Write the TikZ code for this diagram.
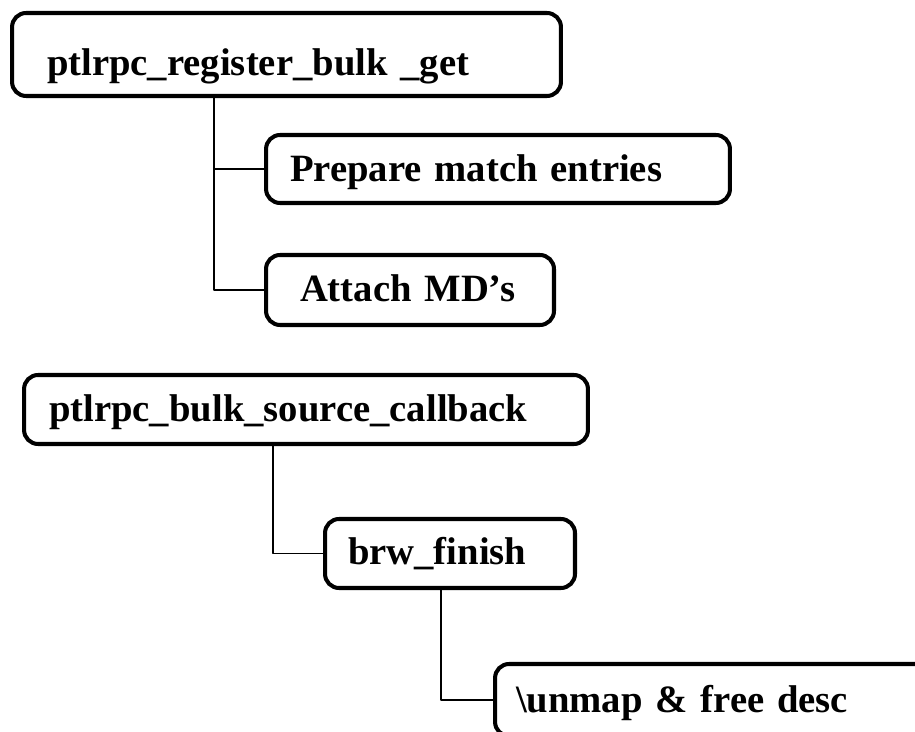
\documentclass[tikz,border=0pt]{standalone}
\usepackage{fontspec}
\setmainfont{Liberation Serif}
\usetikzlibrary{positioning, calc}

\begin{document}
\begin{tikzpicture}[x=0.02cm, y=-0.02cm, line cap=round, line join=round,
    callbox/.style={draw, line width=2.3pt, rounded corners=8pt, align=left, inner ysep=0pt, text depth=0pt, font=\fontsize{22}{26}\selectfont\bfseries},
    link/.style={line width=1.1pt, line cap=butt}]
  \useasboundingbox (0,0) rectangle (915,732);
  \clip (0,0) rectangle (915,732);

  % Bloque superior
  \node[callbox, inner xsep=0.7cm, text width=9.58cm, text height=0.86cm, minimum height=1.66cm] (regbulk) at (286.5,54.5) {ptlrpc\_register\_bulk \_get};
  \node[callbox, inner xsep=0.48cm, text width=8.32cm, text height=0.52cm, minimum height=1.36cm] (prepme) at (498,169) {Prepare match entries};
  \node[callbox, inner xsep=0.68cm, text width=4.4cm, text height=0.48cm, minimum height=1.4cm] (attachmd) at (410,290) {Attach~MD’s};

  \draw[link] ([xshift=4.08cm]regbulk.south west) |- (prepme.west);
  \draw[link] ([xshift=4.08cm]regbulk.south west) |- (attachmd.west);

  % Bloque inferior
  \node[callbox, inner xsep=0.5cm, text width=10.28cm, text height=0.5cm, minimum height=1.38cm] (srccb) at (306,409.5) {ptlrpc\_bulk\_source\_callback};
  \node[callbox, inner xsep=0.46cm, text width=4.08cm, text height=0.46cm, minimum height=1.38cm] (brwfin) at (450,553.5) {brw\_finish};
  \node[callbox, inner xsep=0.42cm, text width=8.06cm, text height=0.48cm, minimum height=1.44cm] (unmapfree) at (717.5,700) {\textbackslash unmap \& free desc};

  \draw[link] ([xshift=5.02cm]srccb.south west) |- (brwfin.west);
  \draw[link] ([xshift=2.36cm]brwfin.south west) |- (unmapfree.west);
\end{tikzpicture}
\end{document}
